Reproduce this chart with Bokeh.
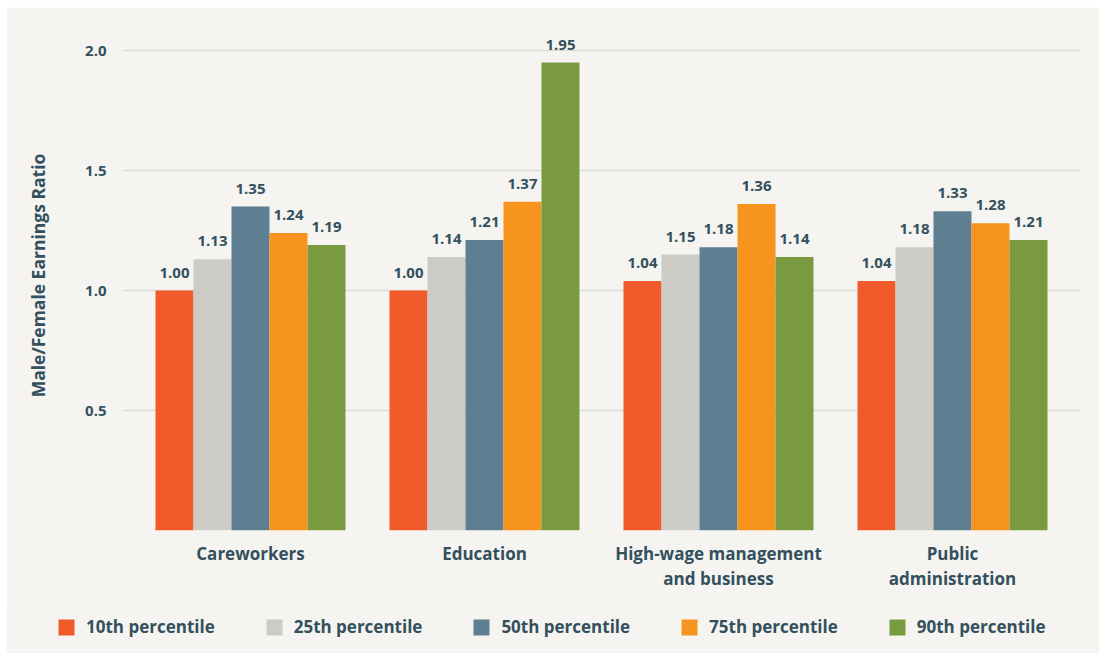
from bokeh.plotting import figure
from bokeh.models import ColumnDataSource, FixedTicker, Legend, LegendItem, Range1d
from bokeh.core.properties import value
from bokeh.embed import file_html
from bokeh.resources import INLINE

categories = ["Careworkers", "Education", "High-wage management\nand business", "Public\nadministration"]
series = ["10th percentile", "25th percentile", "50th percentile", "75th percentile", "90th percentile"]
p10 = [1.00, 1.00, 1.04, 1.04]
p25 = [1.13, 1.14, 1.15, 1.18]
p50 = [1.35, 1.21, 1.18, 1.33]
p75 = [1.24, 1.37, 1.36, 1.28]
p90 = [1.19, 1.95, 1.14, 1.21]
colors = ["#f15a2b", "#cccbc6", "#5e7f91", "#f7941e", "#7a9a3f"]
y_ticks = [0.5, 1.0, 1.5, 2.0]
y_tick_labels = ["0.5", "1.0", "1.5", "2.0"]

BG = "#f5f4f0"
TXT = "#33505e"
FONT = "Open Sans"

p = figure(width=1093, height=601, output_backend="svg", toolbar_location=None,
           x_range=Range1d(-0.547, 3.547), y_range=Range1d(0, 2.125),
           min_border_left=116, min_border_right=19, min_border_top=13, min_border_bottom=78,
           background_fill_color=BG, border_fill_color=BG, outline_line_color=None,
           styles={"margin-left": "6px", "margin-top": "7px"})

bw = 0.1624
xs = list(range(len(categories)))
renderers = []
for i, (name, vals, col) in enumerate(zip(series, [p10, p25, p50, p75, p90], colors)):
    off = (i - 2) * bw
    src = ColumnDataSource(dict(x=[x + off for x in xs], top=vals,
                                lab=["%.2f" % v for v in vals]))
    r = p.vbar(x="x", top="top", bottom=0, width=bw, source=src, fill_color=col, line_color=None)
    renderers.append(r)
    p.text(x="x", y="top", text="lab", source=src, y_offset=-13, text_align="center",
           text_baseline="bottom", text_font=value(FONT), text_font_style="bold",
           text_font_size="15px", text_color=TXT)

# axes
p.xaxis.ticker = FixedTicker(ticks=xs)
p.xaxis.major_label_overrides = {i: c for i, c in enumerate(categories)}
p.xaxis.axis_line_color = None
p.xaxis.major_tick_line_color = None
p.xaxis.minor_tick_line_color = None
p.xaxis.major_label_text_font = FONT
p.xaxis.major_label_text_font_size = "17px"
p.xaxis.major_label_text_font_style = "bold"
p.xaxis.major_label_text_color = TXT
p.xaxis.major_label_standoff = 5
p.xaxis.major_label_text_line_height = 1.1

p.yaxis.ticker = FixedTicker(ticks=y_ticks)
p.yaxis.major_label_overrides = {t: l for t, l in zip(y_ticks, y_tick_labels)}
p.yaxis.axis_line_color = None
p.yaxis.major_tick_line_color = None
p.yaxis.minor_tick_line_color = None
p.yaxis.major_label_text_font = FONT
p.yaxis.major_label_text_font_size = "15px"
p.yaxis.major_label_text_font_style = "bold"
p.yaxis.major_label_text_color = TXT
p.yaxis.major_label_standoff = 10
p.yaxis.axis_label = "Male/Female Earnings Ratio"
p.yaxis.axis_label_text_font = FONT
p.yaxis.axis_label_text_font_size = "17.5px"
p.yaxis.axis_label_text_font_style = "bold"
p.yaxis.axis_label_text_color = TXT
p.yaxis.axis_label_standoff = 32

p.xgrid.grid_line_color = None
p.ygrid.ticker = FixedTicker(ticks=[0.0] + y_ticks)
p.ygrid.grid_line_color = "#dcdbd6"
p.ygrid.grid_line_width = 1.5

# legend figure (separate root so its frame is not aligned with the main plot)
lg = figure(width=1093, height=46, output_backend="svg", toolbar_location=None,
            x_range=Range1d(0, 1), y_range=Range1d(0, 1), min_border=0,
            x_axis_location=None, y_axis_location=None,
            background_fill_color=BG, border_fill_color=BG, outline_line_color=None,
            styles={"margin-left": "6px", "margin-top": "-1px"})
lg.grid.visible = False
lrs = []
for col in colors:
    lrs.append(lg.vbar(x=[-5], top=[-5], bottom=-6, width=0.1, fill_color=col, line_color=None))
legend = Legend(items=[LegendItem(label=s, renderers=[r]) for s, r in zip(series, lrs)],
                orientation="horizontal", location=(50, 15),
                glyph_width=20, glyph_height=20, label_standoff=10, spacing=49,
                label_text_font=FONT, label_text_font_size="17px", label_text_font_style="bold",
                label_text_color=TXT, background_fill_alpha=0, border_line_color=None,
                padding=0, margin=0)
lg.add_layout(legend, "center")

open("out.html", "w").write(file_html([p, lg], INLINE))
